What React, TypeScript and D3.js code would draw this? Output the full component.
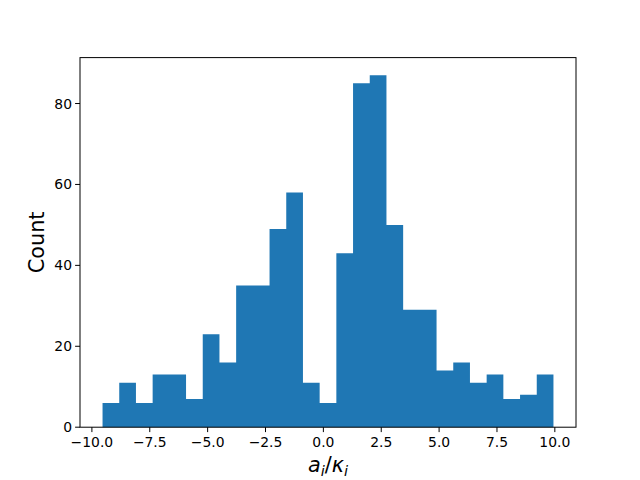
import React from "react";
import * as d3 from "d3";

const counts: number[] = [6, 11, 6, 13, 13, 7, 23, 16, 35, 35, 49, 58, 11, 6, 43, 85, 87, 50, 29, 29, 14, 16, 11, 13, 7, 8, 13];
const binMin = -9.54;
const binMax = 9.94;
const xTicks: number[] = [-10, -7.5, -5, -2.5, 0, 2.5, 5, 7.5, 10];
const yTicks: number[] = [0, 20, 40, 60, 80];

const W = 640;
const H = 480;
const left = 80;
const right = 576;
const top = 57.6;
const bottom = 427.2;
const font = "DejaVu Sans, sans-serif";

export default function App() {
  const span = binMax - binMin;
  const x = d3.scaleLinear().domain([binMin - 0.05 * span, binMax + 0.05 * span]).range([left, right]);
  const yMax = (d3.max(counts) as number) * 1.05;
  const y = d3.scaleLinear().domain([0, yMax]).range([bottom, top]);
  const bw = span / counts.length;
  const bins = counts.map((c, i) => ({ x0: binMin + i * bw, x1: binMin + (i + 1) * bw, c }));

  const p = d3.path();
  p.moveTo(x(bins[0].x0), y(0));
  bins.forEach((b) => {
    p.lineTo(x(b.x0), y(b.c));
    p.lineTo(x(b.x1), y(b.c));
  });
  p.lineTo(x(bins[bins.length - 1].x1), y(0));
  p.closePath();

  return (
    <svg width={W} height={H} style={{ position: "absolute", left: 0, top: 0, background: "#fff" }}>
      <rect x={0} y={0} width={W} height={H} fill="#fff" />
      <path d={p.toString()} fill="#1f77b4" />
      <rect x={left} y={top} width={right - left} height={bottom - top} fill="none" stroke="#000" strokeWidth={1} />
      {xTicks.map((t) => (
        <g key={t}>
          <line x1={x(t)} x2={x(t)} y1={bottom} y2={bottom + 4.9} stroke="#000" strokeWidth={1} />
          <text x={x(t)} y={bottom + 20} textAnchor="middle" fontFamily={font} fontSize={13.9} fill="#000">
            {t.toFixed(1).replace("-", "\u2212")}
          </text>
        </g>
      ))}
      {yTicks.map((t) => (
        <g key={t}>
          <line x1={left - 4.9} x2={left} y1={y(t)} y2={y(t)} stroke="#000" strokeWidth={1} />
          <text x={left - 8} y={y(t) + 5} textAnchor="end" fontFamily={font} fontSize={13.9} fill="#000">
            {t}
          </text>
        </g>
      ))}
      <text
        transform={`translate(44, ${(top + bottom) / 2}) rotate(-90)`}
        textAnchor="middle"
        fontFamily={font}
        fontSize={20.8}
        fill="#000"
      >
        Count
      </text>
      <text x={(left + right) / 2} y={472} textAnchor="middle" fontFamily={font} fontSize={20.8} fill="#000">
        <tspan fontStyle="italic">a</tspan>
        <tspan fontStyle="italic" fontSize={14.5} dy={4}>i</tspan>
        <tspan dy={-4}>/</tspan>
        <tspan fontStyle="italic">κ</tspan>
        <tspan fontStyle="italic" fontSize={14.5} dy={4}>i</tspan>
      </text>
    </svg>
  );
}
